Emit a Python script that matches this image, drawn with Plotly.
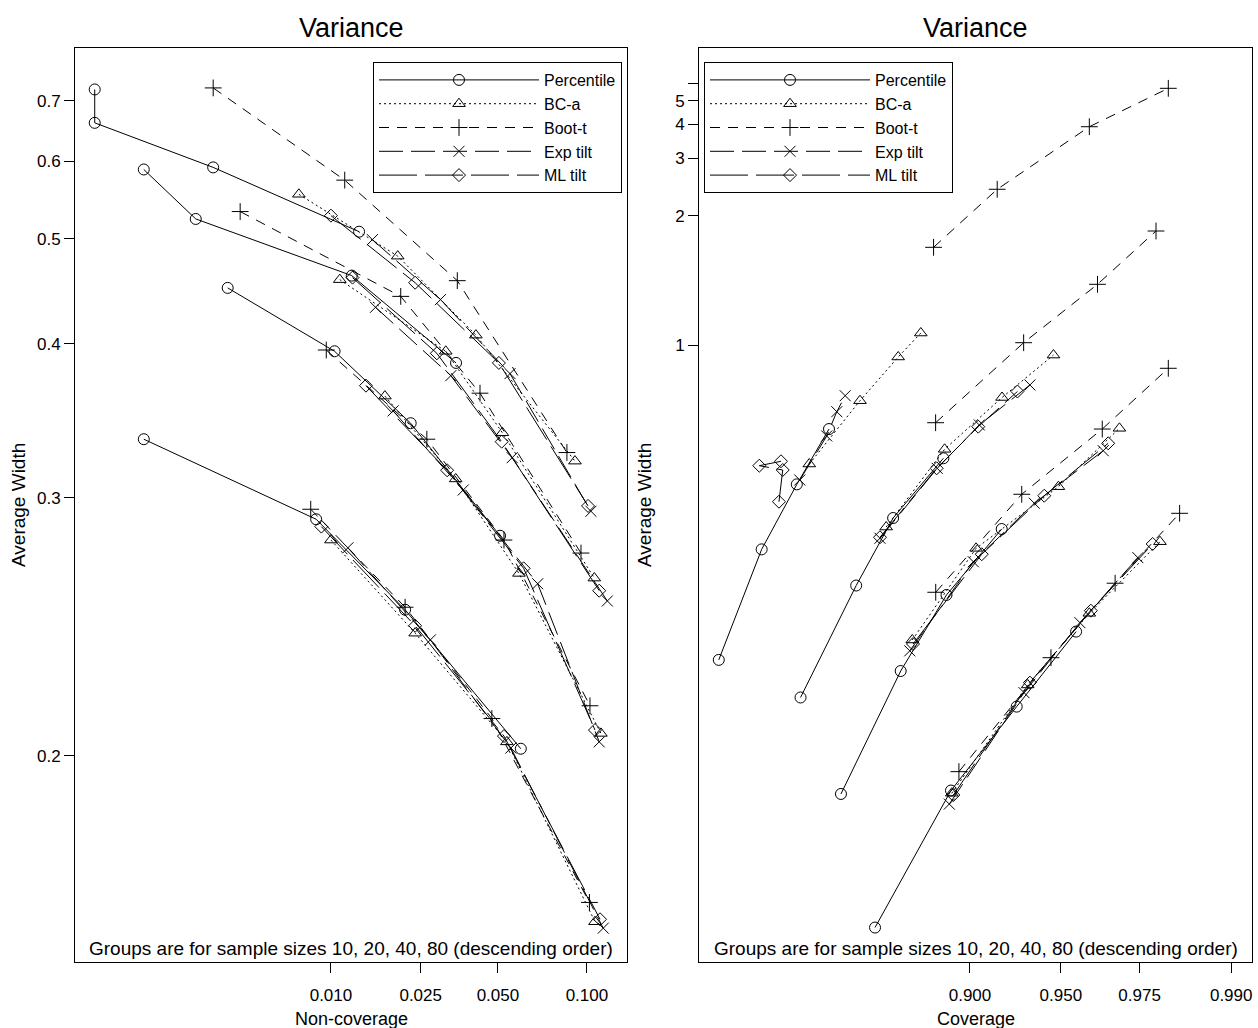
import math
from statistics import NormalDist
import plotly.graph_objects as go

SAMPLE_SIZES = [10, 20, 40, 80]
METHODS = ["Percentile", "BC-a", "Boot-t", "Exp tilt", "ML tilt"]

# ---------------- Left panel: non-coverage vs average width ----------------
# each list: 4 nominal levels for n=10, then n=20, n=40, n=80
L_PCT_NONCOV = [0.0005, 0.0005, 0.0025, 0.0135, 0.0010, 0.0020, 0.0125, 0.0347,
                0.0030, 0.0104, 0.0227, 0.0509, 0.0010, 0.0085, 0.0215, 0.0604]
L_PCT_WIDTH = [0.722, 0.661, 0.591, 0.508, 0.588, 0.523, 0.461, 0.385,
               0.449, 0.394, 0.343, 0.281, 0.333, 0.289, 0.249, 0.202]
L_BCA_NONCOV = [0.0070, 0.0200, 0.0414, 0.0917, 0.0110, 0.0316, 0.0519, 0.1054,
                0.0176, 0.0346, 0.0595, 0.1104, 0.0100, 0.0237, 0.0539, 0.1059]
L_BCA_WIDTH = [0.554, 0.481, 0.407, 0.320, 0.457, 0.394, 0.337, 0.262,
               0.361, 0.310, 0.264, 0.2065, 0.279, 0.240, 0.204, 0.160]
L_BOOTT_NONCOV = [0.0025, 0.0116, 0.0351, 0.0864, 0.0035, 0.0206, 0.0429, 0.0958,
                  0.0095, 0.0265, 0.0526, 0.1022, 0.0080, 0.0215, 0.0475, 0.1018]
L_BOOTT_WIDTH = [0.725, 0.573, 0.456, 0.325, 0.532, 0.441, 0.363, 0.273,
                 0.395, 0.333, 0.279, 0.215, 0.294, 0.250, 0.211, 0.164]
L_EXP_NONCOV = [0.0155, 0.0301, 0.0553, 0.1029, 0.0160, 0.0331, 0.0563, 0.1154,
                0.0191, 0.0370, 0.0691, 0.1091, 0.0120, 0.0274, 0.0557, 0.1122]
L_EXP_WIDTH = [0.499, 0.438, 0.377, 0.293, 0.431, 0.3755, 0.322, 0.2525,
               0.351, 0.304, 0.2596, 0.204, 0.2754, 0.2375, 0.2022, 0.1587]
L_ML_NONCOV = [0.0100, 0.0237, 0.0504, 0.1008, 0.0126, 0.0291, 0.0516, 0.1091,
               0.0145, 0.0320, 0.0618, 0.1059, 0.0090, 0.0237, 0.0526, 0.1097]
L_ML_WIDTH = [0.527, 0.454, 0.385, 0.2957, 0.459, 0.3924, 0.3315, 0.2567,
              0.3683, 0.3148, 0.2662, 0.2075, 0.2854, 0.2428, 0.2057, 0.1605]

# ---------------- Right panel: coverage vs average width ----------------
R_PCT_COVER = [0.609, 0.673, 0.722, 0.7635, 0.727, 0.7957, 0.835, 0.880,
               0.778, 0.8424, 0.8825, 0.9205, 0.8164, 0.886, 0.929, 0.956]
R_PCT_WIDTH = [0.341, 0.4676, 0.578, 0.706, 0.3095, 0.4194, 0.5165, 0.6336,
               0.2461, 0.3312, 0.408, 0.4985, 0.1861, 0.248, 0.3025, 0.368]
R_BCA_COVER = [0.7385, 0.800, 0.840, 0.861, 0.828, 0.881, 0.9207, 0.9469,
               0.8533, 0.9042, 0.949, 0.9699, 0.8866, 0.9348, 0.9607, 0.9794]
R_BCA_WIDTH = [0.6208, 0.7887, 0.948, 1.0565, 0.5017, 0.6546, 0.799, 0.956,
               0.3597, 0.4691, 0.5734, 0.708, 0.2465, 0.3195, 0.3872, 0.4789]
R_BOOTT_COVER = [0.872, 0.9178, 0.9607, 0.981, 0.8737, 0.9327, 0.9634, 0.9786,
                 0.8738, 0.9317, 0.9649, 0.981, 0.892, 0.9458, 0.9687, 0.983]
R_BOOTT_WIDTH = [1.648, 2.384, 3.904, 5.69, 0.7233, 1.0105, 1.3437, 1.816,
                 0.4112, 0.5588, 0.706, 0.9024, 0.2589, 0.343, 0.4222, 0.5245]
R_EXP_COVER = [0.726, 0.7607, 0.773, 0.783, 0.8216, 0.875, 0.9064, 0.9359,
               0.851, 0.9023, 0.9381, 0.9652, 0.8847, 0.9329, 0.9574, 0.9746]
R_EXP_WIDTH = [0.5868, 0.6877, 0.755, 0.8048, 0.4841, 0.6113, 0.717, 0.841,
               0.3493, 0.4502, 0.5422, 0.6513, 0.2406, 0.3133, 0.3772, 0.4558]
R_ML_COVER = [0.6976, 0.7028, 0.6696, 0.7004, 0.8216, 0.8746, 0.9057, 0.9294,
              0.854, 0.908, 0.9428, 0.9667, 0.8878, 0.9359, 0.9612, 0.9779]
R_ML_WIDTH = [0.545, 0.6077, 0.617, 0.6268, 0.4856, 0.6113, 0.7124, 0.8187,
              0.3558, 0.4606, 0.5561, 0.6692, 0.2455, 0.3214, 0.3901, 0.4755]

LEFT_X_TICKS = [0.010, 0.025, 0.050, 0.100]
LEFT_X_LABELS = ["0.010", "0.025", "0.050", "0.100"]
LEFT_Y_TICKS = [0.2, 0.3, 0.4, 0.5, 0.6, 0.7]
LEFT_Y_LABELS = ["0.2", "0.3", "0.4", "0.5", "0.6", "0.7"]
RIGHT_X_TICKS = [0.900, 0.950, 0.975, 0.990]
RIGHT_X_LABELS = ["0.900", "0.950", "0.975", "0.990"]
RIGHT_Y_TICKS = [1, 2, 3, 4, 5, 6]
RIGHT_Y_LABELS = ["1", "2", "3", "4", "5", ""]

LEFT_DATA = {
    "Percentile": (L_PCT_NONCOV, L_PCT_WIDTH),
    "BC-a": (L_BCA_NONCOV, L_BCA_WIDTH),
    "Boot-t": (L_BOOTT_NONCOV, L_BOOTT_WIDTH),
    "Exp tilt": (L_EXP_NONCOV, L_EXP_WIDTH),
    "ML tilt": (L_ML_NONCOV, L_ML_WIDTH),
}
RIGHT_DATA = {
    "Percentile": (R_PCT_COVER, R_PCT_WIDTH),
    "BC-a": (R_BCA_COVER, R_BCA_WIDTH),
    "Boot-t": (R_BOOTT_COVER, R_BOOTT_WIDTH),
    "Exp tilt": (R_EXP_COVER, R_EXP_WIDTH),
    "ML tilt": (R_ML_COVER, R_ML_WIDTH),
}

# styles
STYLE = {
    "Percentile": dict(symbol="circle-open", dash="solid", size=11),
    "BC-a": dict(symbol="triangle-up-open", dash="2px,3px", size=11),
    "Boot-t": dict(symbol="cross-thin-open", dash="10px,8px", size=12),
    "Exp tilt": dict(symbol="x-thin-open", dash="24px,8px", size=11),
    "ML tilt": dict(symbol="diamond-open", dash="38px,8px", size=10),
}

ND = NormalDist()


def probit(v):
    return ND.inv_cdf(v)


def width_scale(v):
    return -1.0 / math.sqrt(v)


def gapped(vals, f, k=4):
    out = []
    for i in range(0, len(vals), k):
        out += [f(v) for v in vals[i:i + k]] + [None]
    return out[:-1]


FONT = "Liberation Sans, Arial, Helvetica, sans-serif"
W, H = 1258, 1028
# plot boxes in pixels
LBOX = (75, 627)
RBOX = (699, 1252)
YBOX = (48, 962)

fig = go.Figure()

for panel, data, leg, xa, ya in (("L", LEFT_DATA, "legend", "x", "y"),
                                 ("R", RIGHT_DATA, "legend2", "x2", "y2")):
    for m in METHODS:
        st = STYLE[m]
        xs, ws = data[m]
        fig.add_trace(go.Scatter(
            x=gapped(xs, probit), y=gapped(ws, width_scale), mode="lines+markers",
            name=m, legend=leg, xaxis=xa, yaxis=ya, connectgaps=False,
            line=dict(color="black", width=1, dash=st["dash"]),
            marker=dict(symbol=st["symbol"], size=st["size"], color="black",
                        line=dict(color="black", width=1)),
        ))

axis_common = dict(showline=True, mirror=True, linecolor="black", linewidth=1,
                   ticks="outside", ticklen=10, tickcolor="black", tickwidth=1,
                   showgrid=False, zeroline=False,
                   tickfont=dict(family=FONT, size=17, color="black"))

ydom = [(H - YBOX[1]) / H, (H - YBOX[0]) / H]

legend_common = dict(bordercolor="black", borderwidth=1, bgcolor="white",
                     font=dict(family=FONT, size=16, color="black"),
                     itemwidth=160, tracegroupgap=0, yanchor="top", y=(H - 62) / H)

fig.update_layout(
    width=W, height=H, margin=dict(l=0, r=0, t=0, b=0),
    paper_bgcolor="white", plot_bgcolor="white",
    font=dict(family=FONT, size=17, color="black"),
    xaxis=dict(domain=[LBOX[0] / W, LBOX[1] / W], anchor="y",
               range=[-3.371, -1.118],
               tickvals=[probit(v) for v in LEFT_X_TICKS], ticktext=LEFT_X_LABELS,
               ticklabelstandoff=8, **axis_common),
    yaxis=dict(domain=ydom, anchor="x", range=[-2.564, -1.111],
               tickvals=[width_scale(v) for v in LEFT_Y_TICKS], ticktext=LEFT_Y_LABELS,
               **axis_common),
    xaxis2=dict(domain=[RBOX[0] / W, RBOX[1] / W], anchor="y2",
                range=[0.1976, 2.4096],
                tickvals=[probit(v) for v in RIGHT_X_TICKS], ticktext=RIGHT_X_LABELS,
                ticklabelstandoff=8, **axis_common),
    yaxis2=dict(domain=ydom, anchor="x2", range=[-2.396, -0.328],
                tickvals=[width_scale(v) for v in RIGHT_Y_TICKS], ticktext=RIGHT_Y_LABELS,
                **axis_common),
    legend=dict(x=622 / W, xanchor="right", **legend_common),
    legend2=dict(x=704 / W, xanchor="left", **legend_common),
    showlegend=True,
)

ann = []
for (x0, x1), xtitle in ((LBOX, "Non-coverage"), (RBOX, "Coverage")):
    cx = (x0 + x1) / 2 / W
    ann.append(dict(text="Variance", x=cx, y=(H - 28) / H, xref="paper", yref="paper",
                    showarrow=False, font=dict(size=27), xanchor="center", yanchor="middle"))
    ann.append(dict(text=xtitle, x=cx, y=(H - 1019) / H, xref="paper", yref="paper",
                    showarrow=False, font=dict(size=18), xanchor="center", yanchor="middle"))
    ann.append(dict(text="Groups are for sample sizes 10, 20, 40, 80 (descending order)",
                    x=cx, y=(H - 948) / H, xref="paper", yref="paper",
                    showarrow=False, font=dict(size=19), xanchor="center", yanchor="middle"))
for xp in (18, 644):
    ann.append(dict(text="Average Width", x=xp / W, y=(H - 505) / H, xref="paper",
                    yref="paper", showarrow=False, textangle=-90, font=dict(size=19),
                    xanchor="center", yanchor="middle"))
fig.update_layout(annotations=ann)

fig.write_html("out.html")
